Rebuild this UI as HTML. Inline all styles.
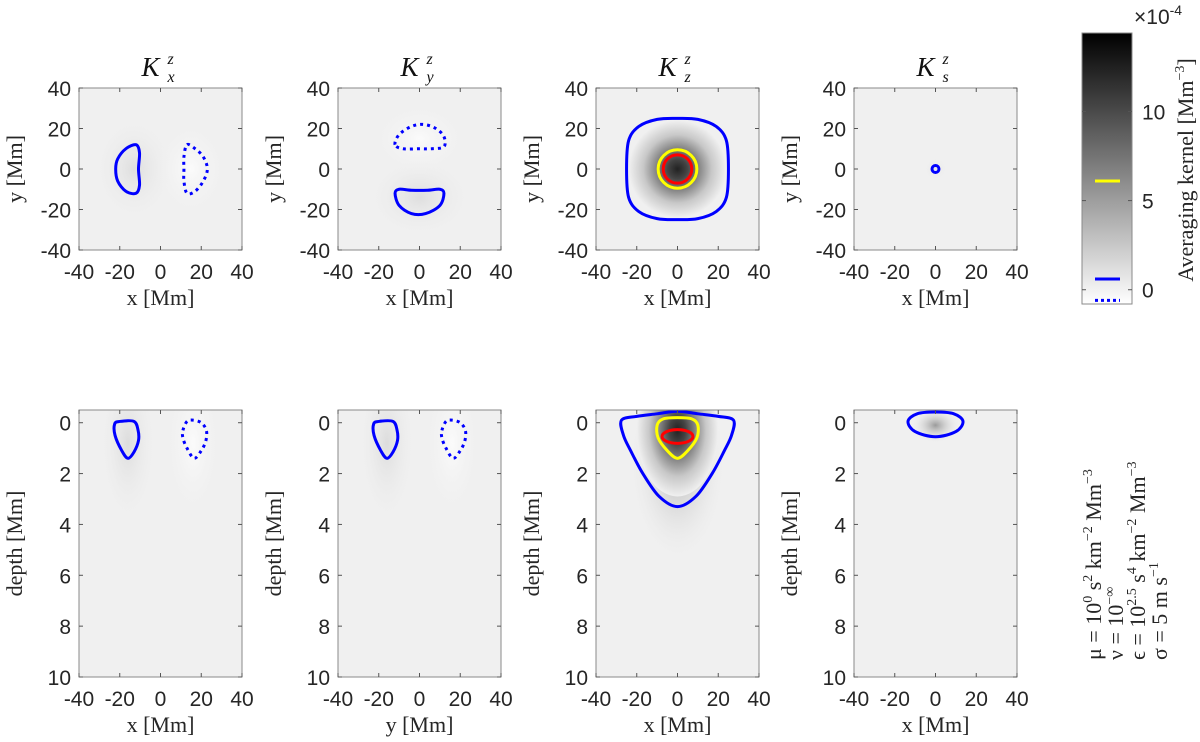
<!DOCTYPE html>
<html><head><meta charset="utf-8">
<style>
html,body{margin:0;padding:0;background:#fff;}
svg{display:block;}
.tk{font-family:"Liberation Sans",sans-serif;font-size:21px;fill:#262626;}
.lb{font-family:"Liberation Serif",serif;font-size:22px;fill:#262626;}
</style></head>
<body>
<svg id="fig" width="1200" height="742" viewBox="0 0 1200 742" xmlns="http://www.w3.org/2000/svg">
<defs id="defs"></defs>
</svg>
<script>
// ---- data ----
const panelTitles = ["x","y","z","s"];
const topXTicks = [-40,-20,0,20,40];
const topYTicks = [40,20,0,-20,-40];
const depthTicks = [0,2,4,6,8,10];
const cbTicks = [0,5,10];
const cbRange = [-0.8,14.4];
const levelYellow = 6.1, levelBlue = 0.6, levelBlueNeg = -0.6;
// background blobs per panel: [cx, cy, rx, ry, innerColor]
const bgTop = [
 [[-13,0,20,26,"#dedede"],[15,0,18,24,"#fbfbfb"]],
 [[0,-14,26,20,"#dedede"],[0,15,24,18,"#fbfbfb"]],
 [],
 [[0,0,6,6,"#e6e6e6"]]
];
const bgBot = [
 [[-16,0.8,14,3.2,"#dcdcdc"],[16,0.8,14,3,"#fbfbfb"]],
 [[-16,0.8,14,3.2,"#dcdcdc"],[16,0.8,14,3,"#fbfbfb"]],
 [],
 [[0,0.1,12,0.7,"#9a9a9a"]]
];
// contours (data coordinates)
const kxSolid = [[-12,12],[-17,10],[-21,5],[-22,0],[-21,-6],[-17,-11],[-12,-12],[-10.3,-8],[-10.8,0],[-10.3,8]];
const kxDotted = [[13,12],[17,10],[21,6],[23,0],[21,-6],[17,-11],[13,-12],[11.5,-6],[11.5,0],[11.5,6]];
const kyDotted = [[-12,12],[-10,17],[-4,21],[2,22],[8,20],[12,16],[12,11],[6,10],[0,10],[-8,10]];
const kySolid = [[-12,-12],[-10,-10],[-4,-10.5],[4,-10.5],[10,-10],[12,-12],[10,-18],[3,-22],[-4,-22],[-10,-18]];
const kzBlue = [[25,0],[24,14],[19,21],[10,24.5],[0,25],[-10,24.5],[-19,21],[-24,14],[-25,0],[-24,-14],[-19,-21],[-10,-24.5],[0,-25],[10,-24.5],[19,-21],[24,-14]];
const kzYellowR = 9.5, kzRedR = 7, ksBlueR = 1.7;
const bSolid = [[-22.5,0.05],[-20,-0.05],[-13,-0.05],[-11,0.3],[-10.8,0.7],[-13,1.15],[-16,1.4],[-19,1.1],[-22.3,0.5]];
const bDotted = [[11,0.3],[13,-0.05],[16,-0.1],[20,0.0],[22.5,0.3],[22.3,0.7],[20,1.1],[16.5,1.4],[13,1.0],[11,0.6]];
const bzBlue = [[-27.5,-0.1],[-20,-0.25],[-10,-0.35],[0,-0.45],[10,-0.35],[20,-0.25],[27.5,-0.1],[26.5,0.5],[23,1.1],[17,2.0],[9,2.9],[0,3.3],[-9,2.9],[-17,2.0],[-23,1.1],[-26.5,0.5]];
const bzYellow = [[-10,0.1],[-7,-0.15],[0,-0.2],[7,-0.15],[10,0.1],[9.5,0.6],[5,1.1],[0,1.4],[-5,1.1],[-9.5,0.6]];
const bzRed = [0,0.54,7.6,0.27];
const bsBlue = [[-13.5,-0.05],[-9,-0.35],[0,-0.42],[9,-0.35],[13.5,-0.05],[10,0.35],[0,0.55],[-10,0.35]];

// ---- layout ----
const NS="http://www.w3.org/2000/svg";
const svg=document.getElementById('fig');
const defs=document.getElementById('defs');
const colL=[79,338,596,854], PW=163;
const topY=[88,250], botY=[410,677];
function mk(tag,attrs,parent){const e=document.createElementNS(NS,tag);for(const k in attrs)e.setAttribute(k,attrs[k]);(parent||svg).appendChild(e);return e;}
function scales(c,row){
  const L=colL[c];
  const sx=v=>L+(v+40)/80*PW;
  const sy=row===0?(v=>topY[0]+(40-v)/80*(topY[1]-topY[0])):(v=>botY[0]+(v+0.5)/10.5*(botY[1]-botY[0]));
  return {sx,sy};
}
function smooth(pts,s){
  const P=pts.map(p=>[s.sx(p[0]),s.sy(p[1])]);const n=P.length;let d=`M${P[0][0]},${P[0][1]}`;
  for(let i=0;i<n;i++){const p0=P[(i-1+n)%n],p1=P[i],p2=P[(i+1)%n],p3=P[(i+2)%n];
    d+=`C${p1[0]+(p2[0]-p0[0])/6},${p1[1]+(p2[1]-p0[1])/6} ${p2[0]-(p3[0]-p1[0])/6},${p2[1]-(p3[1]-p1[1])/6} ${p2[0]},${p2[1]}`;}
  return d+'Z';
}
let gid=0;
function blob(g,s,b){
  const id='g'+(gid++);
  const rg=mk('radialGradient',{id:id},defs);
  mk('stop',{offset:'0',"stop-color":b[4]},rg);
  mk('stop',{offset:'1',"stop-color":'#f0f0f0',"stop-opacity":'0'},rg);
  const e=mk('ellipse',{cx:s.sx(b[0]),cy:s.sy(b[1]),rx:Math.abs(s.sx(b[2])-s.sx(0)),ry:Math.abs(s.sy(b[3])-s.sy(0)),fill:`url(#${id})`},g);
  
  
}
function contour(g,d,color,dotted,name){
  const p=mk('path',{d:d,fill:'none',stroke:color,"stroke-width":3,"stroke-linejoin":'round'},g);
  if(dotted){p.setAttribute('stroke-dasharray','3 4');}
  
  
}
function ellPath(cx,cy,rx,ry,s){
  const X=s.sx(cx),Y=s.sy(cy),RX=Math.abs(s.sx(rx)-s.sx(0)),RY=Math.abs(s.sy(ry)-s.sy(0));
  return `M${X-RX},${Y}A${RX},${RY} 0 1 0 ${X+RX},${Y}A${RX},${RY} 0 1 0 ${X-RX},${Y}Z`;
}
function panel(c,row){
  const s=scales(c,row);const L=colL[c];const T=row?botY[0]:topY[0],B=row?botY[1]:topY[1];
  const g=mk('g',{});
  
  
  const cid='clip'+c+row;const cp=mk('clipPath',{id:cid},defs);mk('rect',{x:L,y:T,width:PW,height:B-T},cp);
  const ig=mk('g',{"clip-path":`url(#${cid})`},g);
  mk('rect',{x:L,y:T,width:PW,height:B-T,fill:'#f0f0f0'},ig);
  const blobs=row?bgBot[c]:bgTop[c];blobs.forEach(b=>blob(ig,s,b));
  if(c===2){
    const id='kz'+row;const rg=mk('radialGradient',{id:id},defs);
    [[0,'#222'],[0.2,'#444'],[0.45,'#888'],[0.7,'#c8c8c8'],[1,'#f0f0f0']].forEach(st=>mk('stop',{offset:st[0],"stop-color":st[1]},rg));
    if(row===0){mk('ellipse',{cx:s.sx(0),cy:s.sy(0),rx:s.sx(24)-s.sx(0),ry:s.sy(-24)-s.sy(0),fill:`url(#${id})`},ig);}
    else{
      const id2='kzt';const rg2=mk('radialGradient',{id:id2},defs);
      mk('stop',{offset:0,"stop-color":'#b0b0b0'},rg2);mk('stop',{offset:1,"stop-color":'#f0f0f0',"stop-opacity":0},rg2);
      mk('ellipse',{cx:s.sx(0),cy:s.sy(1.5),rx:s.sx(24)-s.sx(0),ry:s.sy(4)-s.sy(0),fill:`url(#${id2})`},ig);
      mk('ellipse',{cx:s.sx(0),cy:s.sy(0.3),rx:s.sx(20)-s.sx(0),ry:s.sy(2.6)-s.sy(0),fill:`url(#${id})`},ig);
    }
  }
  if(row===0){
    if(c===0){contour(ig,smooth(kxSolid,s),'#0000ff',false,'positive-contour');contour(ig,smooth(kxDotted,s),'#0000ff',true,'negative-contour');}
    if(c===1){contour(ig,smooth(kySolid,s),'#0000ff',false,'positive-contour');contour(ig,smooth(kyDotted,s),'#0000ff',true,'negative-contour');}
    if(c===2){contour(ig,smooth(kzBlue,s),'#0000ff',false,'low-contour');contour(ig,ellPath(0,0,kzYellowR,kzYellowR,s),'#ffff00',false,'mid-contour');contour(ig,ellPath(0,0,kzRedR,kzRedR,s),'#ff0000',false,'half-max-contour');}
    if(c===3){contour(ig,ellPath(0,0,ksBlueR,ksBlueR,s),'#0000ff',false,'low-contour');}
  } else {
    if(c<2){contour(ig,smooth(bSolid,s),'#0000ff',false,'positive-contour');contour(ig,smooth(bDotted,s),'#0000ff',true,'negative-contour');}
    if(c===2){contour(ig,smooth(bzBlue,s),'#0000ff',false,'low-contour');contour(ig,smooth(bzYellow,s),'#ffff00',false,'mid-contour');contour(ig,ellPath(bzRed[0],bzRed[1],bzRed[2],bzRed[3],s),'#ff0000',false,'half-max-contour');}
    if(c===3){contour(ig,smooth(bsBlue,s),'#0000ff',false,'low-contour');}
  }
  mk('rect',{x:L,y:T,width:PW,height:B-T,fill:'none',stroke:'#8a8a8a',"stroke-width":1},g);
  topXTicks.forEach(v=>{const x=s.sx(v);
    mk('line',{x1:x,y1:B,x2:x,y2:B-4,stroke:'#555'},g);mk('line',{x1:x,y1:T,x2:x,y2:T+4,stroke:'#555'},g);
    const t=mk('text',{x:x,y:B+29,"text-anchor":'middle',class:'tk'},g);t.textContent=v;
    });
  const yt=row?depthTicks:topYTicks;
  yt.forEach(v=>{const y=s.sy(v);
    mk('line',{x1:L,y1:y,x2:L+4,y2:y,stroke:'#555'},g);mk('line',{x1:L+PW,y1:y,x2:L+PW-4,y2:y,stroke:'#555'},g);
    const t=mk('text',{x:L-8,y:y+8,"text-anchor":'end',class:'tk'},g);t.textContent=v;
    });
  const xl=mk('text',{x:L+PW/2,y:B+55,"text-anchor":'middle',class:'lb'},g);
  xl.textContent=(row===1&&c===1)?'y [Mm]':'x [Mm]';
  
  const yx=L-57,ym=(T+B)/2;
  const yl=mk('text',{x:yx,y:ym,"text-anchor":'middle',class:'lb',transform:`rotate(-90 ${yx} ${ym})`},g);
  yl.textContent=row?'depth [Mm]':'y [Mm]';
  
  if(row===0){
    const tt=mk('text',{x:L+PW/2-10,y:76,"text-anchor":'middle',style:'font-family:"Liberation Serif",serif;font-style:italic;font-size:27px;fill:#111'},g);
    tt.textContent='K';
    
    const sp=mk('text',{x:L+PW/2+7,y:64,style:'font-family:"Liberation Serif",serif;font-style:italic;font-size:16px;fill:#111'},g);sp.textContent='z';
    const sb=mk('text',{x:L+PW/2+7,y:82,style:'font-family:"Liberation Serif",serif;font-style:italic;font-size:16px;fill:#111'},g);sb.textContent=panelTitles[c];
  }
}
for(let r=0;r<2;r++)for(let c=0;c<4;c++)panel(c,r);

// colorbar
const cb=mk('g',{});
const cbX=1082,cbW=50,cbT=33,cbB=304;
const cy=v=>cbB-(v-cbRange[0])/(cbRange[1]-cbRange[0])*(cbB-cbT);
const lg=mk('linearGradient',{id:'cbg',x1:0,y1:1,x2:0,y2:0},defs);
mk('stop',{offset:0,"stop-color":'#ffffff'},lg);mk('stop',{offset:1,"stop-color":'#000000'},lg);
mk('rect',{x:cbX,y:cbT,width:cbW,height:cbB-cbT,fill:'url(#cbg)',stroke:'#8a8a8a'},cb);
cbTicks.forEach(v=>{const y=cy(v);mk('line',{x1:cbX,y1:y,x2:cbX+4,y2:y,stroke:'#555'},cb);mk('line',{x1:cbX+cbW,y1:y,x2:cbX+cbW-4,y2:y,stroke:'#555'},cb);
  const t=mk('text',{x:cbX+cbW+10,y:y+8,class:'tk'},cb);t.textContent=v;});
mk('line',{x1:1095,x2:1120,y1:cy(levelYellow),y2:cy(levelYellow),stroke:'#ffff00',"stroke-width":3},cb);
mk('line',{x1:1095,x2:1120,y1:cy(levelBlue),y2:cy(levelBlue),stroke:'#0000ff',"stroke-width":3},cb);
mk('line',{x1:1095,x2:1120,y1:cy(levelBlueNeg),y2:cy(levelBlueNeg),stroke:'#0000ff',"stroke-width":3,"stroke-dasharray":'3 3'},cb);
const ex=mk('text',{x:1134,y:24,class:'tk'},cb);ex.innerHTML='×10<tspan dy="-9" font-size="14">-4</tspan>';
const cl=mk('text',{x:1193,y:170,"text-anchor":'middle',class:'lb',transform:'rotate(-90 1193 170)'},cb);
cl.innerHTML='Averaging kernel [Mm<tspan dy="-9" font-size="14">−3</tspan><tspan dy="9">]</tspan>';


// parameters text
const params=[
 ['μ = 10','0',' s','2',' km','−2',' Mm','−3'],
 ['ν = 10','−∞'],
 ['ϵ = 10','2.5',' s','4',' km','−2',' Mm','−3'],
 ['σ = 5 m s','−1']
];
const px=[1101,1123,1145,1167];
params.forEach((p,i)=>{
  const t=mk('text',{x:px[i],y:660,class:'lb',transform:`rotate(-90 ${px[i]} 660)`});
  
  
  let h='';p.forEach((s,j)=>{h+= j%2? `<tspan dy="-9" font-size="14">${s}</tspan>` : (j?`<tspan dy="9">${s}</tspan>`:s);});
  t.innerHTML=h;
});
</script>
</body></html>
